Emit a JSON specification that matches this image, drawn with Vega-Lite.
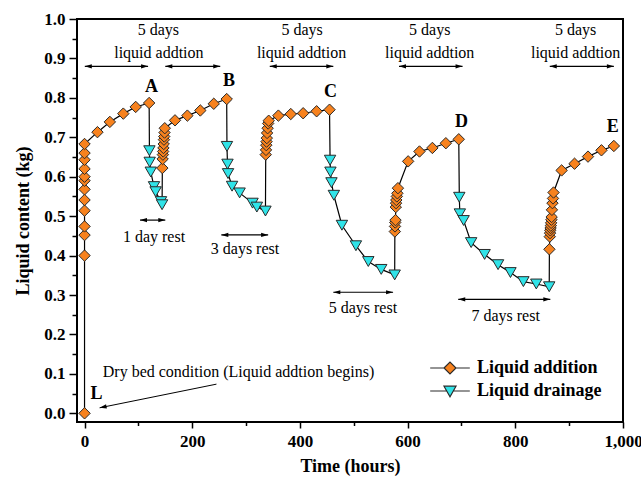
{
  "$schema": "https://vega.github.io/schema/vega-lite/v6.json",
  "width": 546,
  "height": 403,
  "autosize": "none",
  "padding": {"left": 77, "top": 19, "right": 18, "bottom": 55},
  "background": "white",
  "config": {
    "view": {"stroke": "black", "strokeWidth": 2},
    "font": "Liberation Serif",
    "axis": {
      "labelFont": "Liberation Serif", "labelFontWeight": "bold", "labelFontSize": 17, "labelColor": "black",
      "titleFont": "Liberation Serif", "titleFontWeight": "bold", "titleFontSize": 18, "titleColor": "black",
      "domain": false, "grid": false, "tickColor": "black", "tickWidth": 1.5, "labelOverlap": false, "labelFlush": false
    }
  },
  "datasets": {
    "pts": [
      {"i": 0, "t": 0, "v": 0.0, "s": "Liquid addition"},
      {"i": 1, "t": 0, "v": 0.40, "s": "Liquid addition"},
      {"i": 2, "t": 0, "v": 0.452, "s": "Liquid addition"},
      {"i": 3, "t": 0, "v": 0.474, "s": "Liquid addition"},
      {"i": 4, "t": 0, "v": 0.514, "s": "Liquid addition"},
      {"i": 5, "t": 0, "v": 0.541, "s": "Liquid addition"},
      {"i": 6, "t": 0, "v": 0.568, "s": "Liquid addition"},
      {"i": 7, "t": 0, "v": 0.59, "s": "Liquid addition"},
      {"i": 8, "t": 0, "v": 0.60, "s": "Liquid addition"},
      {"i": 9, "t": 0, "v": 0.62, "s": "Liquid addition"},
      {"i": 10, "t": 0, "v": 0.643, "s": "Liquid addition"},
      {"i": 11, "t": 0, "v": 0.66, "s": "Liquid addition"},
      {"i": 12, "t": 0, "v": 0.683, "s": "Liquid addition"},
      {"i": 13, "t": 24, "v": 0.713, "s": "Liquid addition"},
      {"i": 14, "t": 47, "v": 0.739, "s": "Liquid addition"},
      {"i": 15, "t": 72, "v": 0.76, "s": "Liquid addition"},
      {"i": 16, "t": 95, "v": 0.777, "s": "Liquid addition"},
      {"i": 17, "t": 120, "v": 0.787, "s": "Liquid addition"},
      {"i": 18, "t": 120.5, "v": 0.666, "s": "Liquid drainage"},
      {"i": 19, "t": 121, "v": 0.637, "s": "Liquid drainage"},
      {"i": 20, "t": 123, "v": 0.612, "s": "Liquid drainage"},
      {"i": 21, "t": 129, "v": 0.575, "s": "Liquid drainage"},
      {"i": 22, "t": 132, "v": 0.562, "s": "Liquid drainage"},
      {"i": 23, "t": 142, "v": 0.537, "s": "Liquid drainage"},
      {"i": 24, "t": 144, "v": 0.529, "s": "Liquid drainage"},
      {"i": 25, "t": 144.5, "v": 0.622, "s": "Liquid addition"},
      {"i": 26, "t": 145, "v": 0.645, "s": "Liquid addition"},
      {"i": 27, "t": 145.5, "v": 0.656, "s": "Liquid addition"},
      {"i": 28, "t": 146, "v": 0.664, "s": "Liquid addition"},
      {"i": 29, "t": 146.5, "v": 0.673, "s": "Liquid addition"},
      {"i": 30, "t": 147, "v": 0.683, "s": "Liquid addition"},
      {"i": 31, "t": 147.5, "v": 0.694, "s": "Liquid addition"},
      {"i": 32, "t": 148, "v": 0.702, "s": "Liquid addition"},
      {"i": 33, "t": 148.5, "v": 0.712, "s": "Liquid addition"},
      {"i": 34, "t": 149, "v": 0.723, "s": "Liquid addition"},
      {"i": 35, "t": 168, "v": 0.743, "s": "Liquid addition"},
      {"i": 36, "t": 191, "v": 0.755, "s": "Liquid addition"},
      {"i": 37, "t": 215, "v": 0.768, "s": "Liquid addition"},
      {"i": 38, "t": 240, "v": 0.785, "s": "Liquid addition"},
      {"i": 39, "t": 264, "v": 0.797, "s": "Liquid addition"},
      {"i": 40, "t": 264.5, "v": 0.677, "s": "Liquid drainage"},
      {"i": 41, "t": 265.5, "v": 0.632, "s": "Liquid drainage"},
      {"i": 42, "t": 266.5, "v": 0.608, "s": "Liquid drainage"},
      {"i": 43, "t": 274, "v": 0.576, "s": "Liquid drainage"},
      {"i": 44, "t": 288, "v": 0.559, "s": "Liquid drainage"},
      {"i": 45, "t": 312, "v": 0.533, "s": "Liquid drainage"},
      {"i": 46, "t": 320, "v": 0.523, "s": "Liquid drainage"},
      {"i": 47, "t": 336, "v": 0.513, "s": "Liquid drainage"},
      {"i": 48, "t": 336.5, "v": 0.656, "s": "Liquid addition"},
      {"i": 49, "t": 337, "v": 0.668, "s": "Liquid addition"},
      {"i": 50, "t": 337.5, "v": 0.68, "s": "Liquid addition"},
      {"i": 51, "t": 338, "v": 0.689, "s": "Liquid addition"},
      {"i": 52, "t": 338.5, "v": 0.698, "s": "Liquid addition"},
      {"i": 53, "t": 339, "v": 0.711, "s": "Liquid addition"},
      {"i": 54, "t": 340, "v": 0.723, "s": "Liquid addition"},
      {"i": 55, "t": 341, "v": 0.735, "s": "Liquid addition"},
      {"i": 56, "t": 342, "v": 0.742, "s": "Liquid addition"},
      {"i": 57, "t": 360, "v": 0.755, "s": "Liquid addition"},
      {"i": 58, "t": 383, "v": 0.759, "s": "Liquid addition"},
      {"i": 59, "t": 406, "v": 0.761, "s": "Liquid addition"},
      {"i": 60, "t": 431, "v": 0.766, "s": "Liquid addition"},
      {"i": 61, "t": 455, "v": 0.77, "s": "Liquid addition"},
      {"i": 62, "t": 456, "v": 0.642, "s": "Liquid drainage"},
      {"i": 63, "t": 456.7, "v": 0.612, "s": "Liquid drainage"},
      {"i": 64, "t": 458.6, "v": 0.585, "s": "Liquid drainage"},
      {"i": 65, "t": 463, "v": 0.553, "s": "Liquid drainage"},
      {"i": 66, "t": 478, "v": 0.477, "s": "Liquid drainage"},
      {"i": 67, "t": 504, "v": 0.425, "s": "Liquid drainage"},
      {"i": 68, "t": 527, "v": 0.385, "s": "Liquid drainage"},
      {"i": 69, "t": 551, "v": 0.365, "s": "Liquid drainage"},
      {"i": 70, "t": 576, "v": 0.351, "s": "Liquid drainage"},
      {"i": 71, "t": 576.3, "v": 0.461, "s": "Liquid addition"},
      {"i": 72, "t": 576.6, "v": 0.474, "s": "Liquid addition"},
      {"i": 73, "t": 577, "v": 0.484, "s": "Liquid addition"},
      {"i": 74, "t": 577.5, "v": 0.49, "s": "Liquid addition"},
      {"i": 75, "t": 578, "v": 0.523, "s": "Liquid addition"},
      {"i": 76, "t": 578.5, "v": 0.533, "s": "Liquid addition"},
      {"i": 77, "t": 579, "v": 0.541, "s": "Liquid addition"},
      {"i": 78, "t": 580, "v": 0.55, "s": "Liquid addition"},
      {"i": 79, "t": 581, "v": 0.558, "s": "Liquid addition"},
      {"i": 80, "t": 582, "v": 0.571, "s": "Liquid addition"},
      {"i": 81, "t": 601, "v": 0.639, "s": "Liquid addition"},
      {"i": 82, "t": 622, "v": 0.664, "s": "Liquid addition"},
      {"i": 83, "t": 646, "v": 0.673, "s": "Liquid addition"},
      {"i": 84, "t": 671, "v": 0.685, "s": "Liquid addition"},
      {"i": 85, "t": 695, "v": 0.695, "s": "Liquid addition"},
      {"i": 86, "t": 696, "v": 0.548, "s": "Liquid drainage"},
      {"i": 87, "t": 697, "v": 0.506, "s": "Liquid drainage"},
      {"i": 88, "t": 704, "v": 0.489, "s": "Liquid drainage"},
      {"i": 89, "t": 718, "v": 0.433, "s": "Liquid drainage"},
      {"i": 90, "t": 743, "v": 0.403, "s": "Liquid drainage"},
      {"i": 91, "t": 768, "v": 0.377, "s": "Liquid drainage"},
      {"i": 92, "t": 791, "v": 0.357, "s": "Liquid drainage"},
      {"i": 93, "t": 815, "v": 0.334, "s": "Liquid drainage"},
      {"i": 94, "t": 839, "v": 0.328, "s": "Liquid drainage"},
      {"i": 95, "t": 863, "v": 0.321, "s": "Liquid drainage"},
      {"i": 96, "t": 863.3, "v": 0.416, "s": "Liquid addition"},
      {"i": 97, "t": 864, "v": 0.448, "s": "Liquid addition"},
      {"i": 98, "t": 864.5, "v": 0.457, "s": "Liquid addition"},
      {"i": 99, "t": 865, "v": 0.464, "s": "Liquid addition"},
      {"i": 100, "t": 865.5, "v": 0.47, "s": "Liquid addition"},
      {"i": 101, "t": 866, "v": 0.476, "s": "Liquid addition"},
      {"i": 102, "t": 866.5, "v": 0.483, "s": "Liquid addition"},
      {"i": 103, "t": 867, "v": 0.491, "s": "Liquid addition"},
      {"i": 104, "t": 867.5, "v": 0.498, "s": "Liquid addition"},
      {"i": 105, "t": 868, "v": 0.516, "s": "Liquid addition"},
      {"i": 106, "t": 869, "v": 0.533, "s": "Liquid addition"},
      {"i": 107, "t": 870, "v": 0.545, "s": "Liquid addition"},
      {"i": 108, "t": 871, "v": 0.56, "s": "Liquid addition"},
      {"i": 109, "t": 886, "v": 0.616, "s": "Liquid addition"},
      {"i": 110, "t": 910, "v": 0.633, "s": "Liquid addition"},
      {"i": 111, "t": 935, "v": 0.651, "s": "Liquid addition"},
      {"i": 112, "t": 960, "v": 0.667, "s": "Liquid addition"},
      {"i": 113, "t": 983, "v": 0.678, "s": "Liquid addition"}
    ],
    "arrows": [
      {"x1": 0.5, "x2": 118, "y": 0.88},
      {"x1": 150, "x2": 252, "y": 0.88},
      {"x1": 344, "x2": 462, "y": 0.88},
      {"x1": 584, "x2": 702, "y": 0.88},
      {"x1": 864, "x2": 983, "y": 0.88},
      {"x1": 103, "x2": 150, "y": 0.49},
      {"x1": 254, "x2": 341, "y": 0.4525},
      {"x1": 462, "x2": 573, "y": 0.307},
      {"x1": 694, "x2": 865, "y": 0.289}
    ],
    "dry": [
      {"x1": 245, "y1": 0.074, "x2": 28, "y2": 0.014}
    ],
    "notes": [
      {"t": 137, "v": 0.971, "label": "5 days"},
      {"t": 138, "v": 0.915, "label": "liquid addtion"},
      {"t": 404, "v": 0.971, "label": "5 days"},
      {"t": 403, "v": 0.915, "label": "liquid addtion"},
      {"t": 641, "v": 0.971, "label": "5 days"},
      {"t": 641, "v": 0.915, "label": "liquid addtion"},
      {"t": 912, "v": 0.971, "label": "5 days"},
      {"t": 912, "v": 0.915, "label": "liquid addtion"},
      {"t": 129, "v": 0.448, "label": "1 day rest"},
      {"t": 298, "v": 0.416, "label": "3 days rest"},
      {"t": 517, "v": 0.2665, "label": "5 days rest"},
      {"t": 782, "v": 0.247, "label": "7 days rest"},
      {"t": 286, "v": 0.1056, "label": "Dry bed condition (Liquid addtion begins)"}
    ],
    "letters": [
      {"t": 124.4, "v": 0.827, "label": "A"},
      {"t": 268.5, "v": 0.842, "label": "B"},
      {"t": 456.7, "v": 0.816, "label": "C"},
      {"t": 700, "v": 0.74, "label": "D"},
      {"t": 981, "v": 0.727, "label": "E"},
      {"t": 22.3, "v": 0.048, "label": "L"}
    ]
  },
  "layer": [
    {
      "data": {"name": "pts"},
      "mark": {"type": "line", "color": "black", "strokeWidth": 1.2},
      "encoding": {
        "x": {"field": "t", "type": "quantitative", "scale": {"domain": [-14, 1000], "nice": false, "zero": false},
          "axis": {"orient": "bottom", "title": "Time (hours)", "values": [0, 200, 400, 600, 800, 1000], "tickSize": 6, "labelPadding": 5, "titlePadding": 8}},
        "y": {"field": "v", "type": "quantitative", "scale": {"domain": [-0.022, 1.0], "nice": false, "zero": false},
          "axis": {"orient": "left", "title": "Liquid content (kg)", "values": [0, 0.1, 0.2, 0.3, 0.4, 0.5, 0.6, 0.7, 0.8, 0.9, 1.0], "format": ".1f", "tickSize": 8, "labelPadding": 4, "titlePadding": 11}},
        "order": {"field": "i", "type": "quantitative"}
      }
    },
    {
      "data": {"name": "pts"},
      "transform": [{"filter": "datum.s === 'Liquid addition'"}],
      "mark": {"type": "point", "filled": true, "size": 130, "stroke": "#2a2a2a", "strokeWidth": 1, "opacity": 1},
      "encoding": {
        "x": {"field": "t", "type": "quantitative", "scale": {"domain": [-14, 1000], "nice": false, "zero": false}, "axis": null},
        "y": {"field": "v", "type": "quantitative", "scale": {"domain": [-0.022, 1.0], "nice": false, "zero": false}, "axis": null},
        "shape": {"field": "s", "type": "nominal", "scale": {"range": ["diamond"]}, "legend": null},
        "fill": {"field": "s", "type": "nominal",
          "scale": {"domain": ["Liquid addition"], "range": ["#F7821E"]},
          "legend": {
            "title": null, "orient": "none", "legendX": 364, "legendY": 340, "padding": 0,
            "symbolType": "M-3.3,0L-1,0M1,0L3.3,0M-1,0L0,-1L1,0L0,1Z",
            "symbolSize": 144, "labelFont": "Liberation Serif", "labelFontWeight": "bold", "labelFontSize": 18,
            "labelColor": "black", "labelOffset": 18,
            "symbolStrokeColor": "#2a2a2a", "symbolStrokeWidth": 1.2
          }}
      }
    },
    {
      "data": {"name": "pts"},
      "transform": [{"filter": "datum.s === 'Liquid drainage'"}],
      "mark": {"type": "point", "filled": true, "size": 130, "stroke": "#2a2a2a", "strokeWidth": 1, "opacity": 1},
      "encoding": {
        "x": {"field": "t", "type": "quantitative", "scale": {"domain": [-14, 1000], "nice": false, "zero": false}, "axis": null},
        "y": {"field": "v", "type": "quantitative", "scale": {"domain": [-0.022, 1.0], "nice": false, "zero": false}, "axis": null},
        "shape": {"field": "s", "type": "nominal", "scale": {"range": ["triangle-down"]}, "legend": null},
        "fill": {"field": "s", "type": "nominal",
          "scale": {"domain": ["Liquid drainage"], "range": ["#30E3E8"]},
          "legend": {
            "title": null, "orient": "none", "legendX": 364, "legendY": 363, "padding": 0,
            "symbolType": "M-3.3,0L-0.55,0M0.55,0L3.3,0M-1,-0.8L1,-0.8L0,0.95Z",
            "symbolSize": 144, "labelFont": "Liberation Serif", "labelFontWeight": "bold", "labelFontSize": 18,
            "labelColor": "black", "labelOffset": 18,
            "symbolStrokeColor": "#2a2a2a", "symbolStrokeWidth": 1.2
          }}
      }
    },
    {
      "data": {"name": "arrows"},
      "mark": {"type": "rule", "color": "black", "strokeWidth": 1.2},
      "encoding": {
        "x": {"field": "x1", "type": "quantitative", "scale": {"domain": [-14, 1000], "nice": false, "zero": false}, "axis": null},
        "x2": {"field": "x2"},
        "y": {"field": "y", "type": "quantitative", "scale": {"domain": [-0.022, 1.0], "nice": false, "zero": false}, "axis": null}
      }
    },
    {
      "data": {"name": "arrows"},
      "transform": [{"fold": ["x1", "x2"], "as": ["end", "pos"]}],
      "mark": {"type": "point", "filled": true, "color": "black", "size": 49, "opacity": 1},
      "encoding": {
        "x": {"field": "pos", "type": "quantitative", "scale": {"domain": [-14, 1000], "nice": false, "zero": false}, "axis": null},
        "y": {"field": "y", "type": "quantitative", "scale": {"domain": [-0.022, 1.0], "nice": false, "zero": false}, "axis": null},
        "shape": {"field": "end", "type": "nominal",
          "scale": {"domain": ["x1", "x2"], "range": ["M0,0L2,-0.6L2,0.6Z", "M0,0L-2,-0.6L-2,0.6Z"]}, "legend": null}
      }
    },
    {
      "data": {"name": "dry"},
      "mark": {"type": "rule", "color": "black", "strokeWidth": 1},
      "encoding": {
        "x": {"field": "x1", "type": "quantitative", "scale": {"domain": [-14, 1000], "nice": false, "zero": false}, "axis": null},
        "y": {"field": "y1", "type": "quantitative", "scale": {"domain": [-0.022, 1.0], "nice": false, "zero": false}, "axis": null},
        "x2": {"field": "x2"},
        "y2": {"field": "y2"}
      }
    },
    {
      "data": {"name": "dry"},
      "mark": {"type": "point", "filled": true, "color": "black", "size": 49, "opacity": 1, "shape": "M0,0L-2,-0.6L-2,0.6Z", "angle": 168.6},
      "encoding": {
        "x": {"field": "x2", "type": "quantitative", "scale": {"domain": [-14, 1000], "nice": false, "zero": false}, "axis": null},
        "y": {"field": "y2", "type": "quantitative", "scale": {"domain": [-0.022, 1.0], "nice": false, "zero": false}, "axis": null}
      }
    },
    {
      "data": {"name": "notes"},
      "mark": {"type": "text", "font": "Liberation Serif", "fontSize": 16, "color": "black", "align": "center", "baseline": "middle"},
      "encoding": {
        "x": {"field": "t", "type": "quantitative", "scale": {"domain": [-14, 1000], "nice": false, "zero": false}, "axis": null},
        "y": {"field": "v", "type": "quantitative", "scale": {"domain": [-0.022, 1.0], "nice": false, "zero": false}, "axis": null},
        "text": {"field": "label"}
      }
    },
    {
      "data": {"name": "letters"},
      "mark": {"type": "text", "font": "Liberation Serif", "fontSize": 18, "fontWeight": "bold", "color": "black", "align": "center", "baseline": "middle"},
      "encoding": {
        "x": {"field": "t", "type": "quantitative", "scale": {"domain": [-14, 1000], "nice": false, "zero": false},
          "axis": {"orient": "bottom", "title": null, "labels": false, "values": [100, 300, 500, 700, 900], "tickSize": 3.5}},
        "y": {"field": "v", "type": "quantitative", "scale": {"domain": [-0.022, 1.0], "nice": false, "zero": false},
          "axis": {"orient": "left", "title": null, "labels": false, "values": [0.05, 0.15, 0.25, 0.35, 0.45, 0.55, 0.65, 0.75, 0.85, 0.95], "tickSize": 5}},
        "text": {"field": "label"}
      }
    }
  ],
  "resolve": {
    "scale": {"shape": "independent", "fill": "independent"},
    "axis": {"x": "independent", "y": "independent"}
  }
}
